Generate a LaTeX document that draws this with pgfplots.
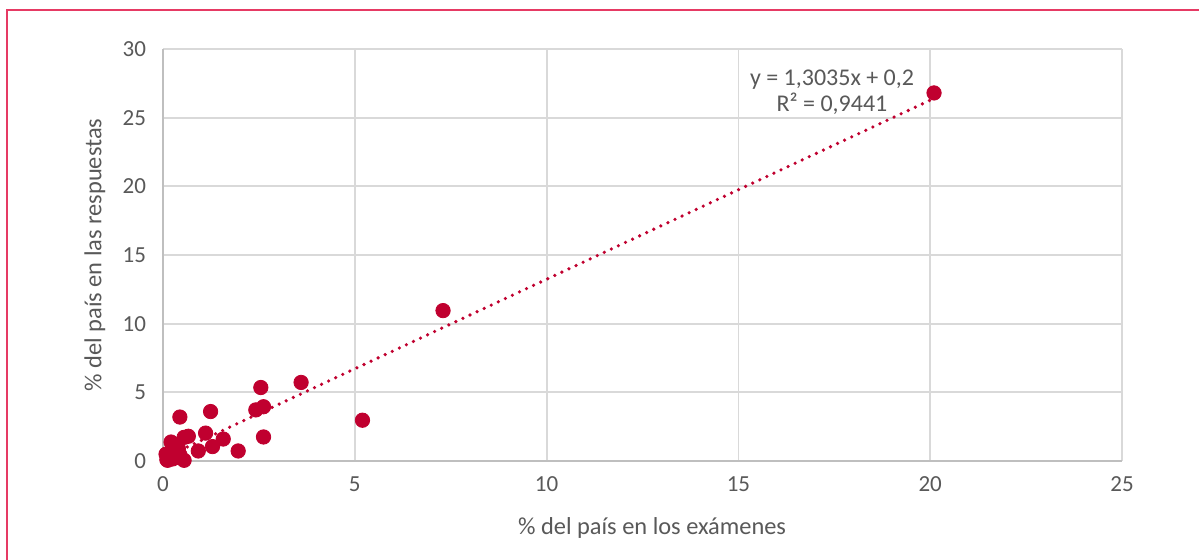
\documentclass[border=0pt]{standalone}
\usepackage{pgfplots}
\pgfplotsset{compat=1.18}
\usepackage{fontspec}
\setmainfont{Carlito}
\definecolor{pt}{HTML}{C0002F}
\definecolor{txt}{HTML}{595959}
\definecolor{gridc}{HTML}{D9D9D9}
\definecolor{axc}{HTML}{BFBFBF}
\definecolor{frame}{HTML}{E63A64}
\begin{document}
\begin{tikzpicture}
\useasboundingbox (0,0) rectangle (599.5pt,280pt);
\fill[white] (0,0) rectangle (599.5pt,280pt);
\draw[frame, line width=0.9pt] (3.5pt,-5pt) -- (3.5pt,275pt) -- (610pt,275pt);
\begin{axis}[
  at={(81.5pt,49.5pt)}, anchor=south west,
  scale only axis, width=479.5pt, height=206pt,
  xmin=0, xmax=25, ymin=0, ymax=30,
  xtick={0,5,...,25}, ytick={0,5,...,30},
  grid=major, major grid style={gridc, line width=0.9pt},
  axis lines*=left, axis line style={axc, line width=0.9pt},
  major tick length=0pt,
  tick label style={font=\fontsize{11.5}{13}\selectfont, text=txt},
  /pgf/number format/assume math mode=true,
  yticklabel style={xshift=-5pt},
  xticklabel style={yshift=-4.5pt},
  xlabel={\% del país en los exámenes},
  ylabel={\% del país en las respuestas},
  label style={font=\fontsize{12.2}{14}\selectfont, text=txt},
  xlabel style={at={(axis description cs:0.51,-0.163)}, anchor=center},
  ylabel style={at={(axis description cs:-0.071,0.5)}, anchor=center, rotate=0},
  clip=false,
]
\addplot[pt, line width=1.8pt, line cap=round, dash pattern=on 0pt off 3.9pt] coordinates {(0.08,0.30) (20.1,26.40)};
\addplot[only marks, mark=*, mark size=3.6pt, mark options={fill=pt, draw=pt}] coordinates {
(20.1,26.8) (7.3,10.95) (3.6,5.72) (5.2,2.97) (2.55,5.35) (2.62,3.95) (2.42,3.72)
(2.62,1.75) (1.24,3.6) (0.44,3.2) (1.11,2.03) (1.57,1.6) (1.96,0.73) (1.29,1.05)
(0.92,0.73) (0.66,1.8) (0.55,1.72) (0.55,0.05) (0.21,1.38) (0.18,0.35) (0.44,0.45)
(0.3,0.8) (0.12,0.05) (0.25,0.15) (0.35,0.25) (0.08,0.5) (0.15,0.2) (0.4,0.9)
(0.1,0.1) (0.28,0.55)
};
\node[align=center, text=txt, font=\fontsize{12}{13.2}\selectfont] at (axis cs:17.44,26.85) {y = 1,3035x + 0,2\\R² = 0,9441};
\end{axis}
\end{tikzpicture}
\end{document}
